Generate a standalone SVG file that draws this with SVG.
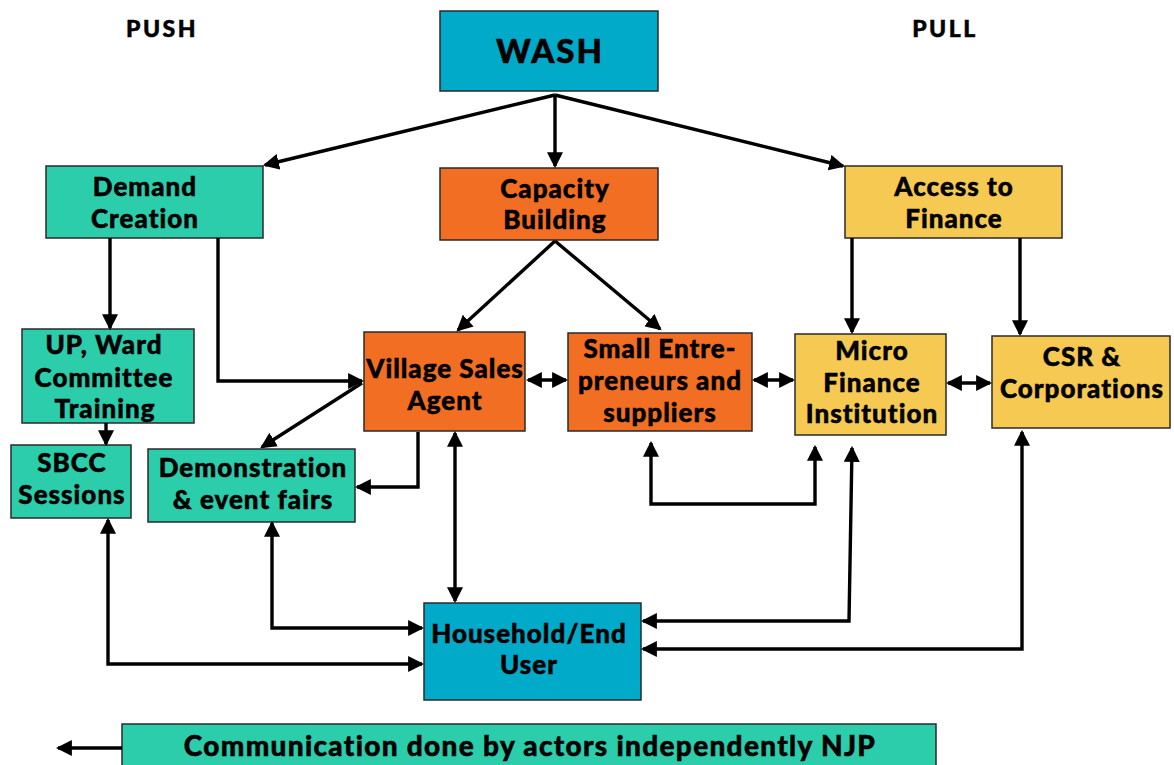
<svg xmlns="http://www.w3.org/2000/svg" width="1174" height="765" viewBox="0 0 1174 765">
<style>
.box{stroke:#2a2a2a;stroke-width:1.5}
.teal{fill:#2bcdab}
.blue{fill:#00aac8}
.orange{fill:#f26e22}
.yellow{fill:#f6c952}
text{font-family:Lato,"Open Sans","Liberation Sans",sans-serif;font-weight:900;fill:#000;stroke:#000;stroke-width:0.5;text-anchor:middle;dominant-baseline:central}
.t{font-size:26px;letter-spacing:1px}
.c{fill:none;stroke:#000;stroke-width:3.4}
</style>
<defs>
<marker id="ah" markerUnits="userSpaceOnUse" markerWidth="16" markerHeight="16" refX="13" refY="7.5" orient="auto-start-reverse" viewBox="0 0 15 15">
<path d="M0,0 L15,7.5 L0,15 z" fill="#000"/>
</marker>
</defs>
<text x="162" y="28" style="font-size:23px;letter-spacing:2.5px">PUSH</text>
<text x="945" y="28" style="font-size:23px;letter-spacing:2.5px">PULL</text>

<g id="wash"><rect class="box blue" x="440" y="11" width="218" height="80"/><text x="550" y="50" style="font-size:33px;letter-spacing:2px">WASH</text></g>
<g id="demand"><rect class="box teal" x="46" y="166" width="217" height="72"/><text class="t" x="145" y="186">Demand</text><text class="t" x="145" y="218">Creation</text></g>
<g id="capacity"><rect class="box orange" x="440" y="168" width="218" height="72"/><text class="t" x="555" y="188">Capacity</text><text class="t" x="555" y="219">Building</text></g>
<g id="access"><rect class="box yellow" x="845" y="166" width="217" height="72"/><text class="t" x="954" y="186">Access to</text><text class="t" x="954" y="218">Finance</text></g>
<g id="up"><rect class="box teal" x="22" y="329" width="172" height="94"/><text class="t" x="104" y="344">UP, Ward</text><text class="t" x="104" y="377">Committee</text><text class="t" x="105" y="408">Training</text></g>
<g id="sbcc"><rect class="box teal" x="11" y="445" width="120" height="73"/><text class="t" x="72" y="462">SBCC</text><text class="t" x="72" y="494">Sessions</text></g>
<g id="demo"><rect class="box teal" x="148" y="449" width="207" height="73"/><text class="t" x="253" y="467">Demonstration</text><text class="t" x="253" y="499">&amp; event fairs</text></g>
<g id="vsa"><rect class="box orange" x="364" y="332" width="161" height="99"/><text class="t" x="445" y="368">Village Sales</text><text class="t" x="445" y="400">Agent</text></g>
<g id="small"><rect class="box orange" x="568" y="333" width="184" height="98"/><text class="t" x="660" y="348">Small Entre-</text><text class="t" x="660" y="380">preneurs and</text><text class="t" x="660" y="412">suppliers</text></g>
<g id="mfi"><rect class="box yellow" x="795" y="334" width="151" height="101"/><text class="t" x="872" y="350">Micro</text><text class="t" x="872" y="382">Finance</text><text class="t" x="872" y="413">Institution</text></g>
<g id="csr"><rect class="box yellow" x="992" y="336" width="178" height="92"/><text class="t" x="1082" y="356">CSR &amp;</text><text class="t" x="1082" y="388">Corporations</text></g>
<g id="household"><rect class="box blue" x="424" y="603" width="217" height="97"/><text class="t" x="529" y="633">Household/End</text><text class="t" x="529" y="664">User</text></g>
<g id="legend"><rect class="box teal" x="122" y="724" width="814" height="50"/><text x="530" y="745" style="font-size:28px;letter-spacing:1.3px">Communication done by actors independently NJP</text></g>

<g id="connectors">
<path class="c" d="M555,95 L265,165" marker-end="url(#ah)"/>
<path class="c" d="M555,95 L555,166" marker-end="url(#ah)"/>
<path class="c" d="M555,95 L843,166" marker-end="url(#ah)"/>
<path class="c" d="M110,238 L110,328" marker-end="url(#ah)"/>
<path class="c" d="M218,238 L218,381 L362,381" marker-end="url(#ah)"/>
<path class="c" d="M362,383 L262,447" marker-end="url(#ah)"/>
<path class="c" d="M106,423 L106,444" marker-end="url(#ah)"/>
<path class="c" d="M555,241 L458,330" marker-end="url(#ah)"/>
<path class="c" d="M555,241 L660,329" marker-end="url(#ah)"/>
<path class="c" d="M528,380 L566,380" marker-start="url(#ah)" marker-end="url(#ah)"/>
<path class="c" d="M754,380 L793,380" marker-start="url(#ah)" marker-end="url(#ah)"/>
<path class="c" d="M948,383 L990,383" marker-start="url(#ah)" marker-end="url(#ah)"/>
<path class="c" d="M852,238 L852,332" marker-end="url(#ah)"/>
<path class="c" d="M1020,238 L1020,334" marker-end="url(#ah)"/>
<path class="c" d="M418,432 L418,487 L357,487" marker-end="url(#ah)"/>
<path class="c" d="M455,433 L455,601" marker-start="url(#ah)" marker-end="url(#ah)"/>
<path class="c" d="M272,523 L272,628 L422,628" marker-start="url(#ah)" marker-end="url(#ah)"/>
<path class="c" d="M108,520 L108,664 L422,664" marker-start="url(#ah)" marker-end="url(#ah)"/>
<path class="c" d="M651,443 L651,504 L815,504 L815,447" marker-start="url(#ah)" marker-end="url(#ah)"/>
<path class="c" d="M852,448 L849,621 L643,621" marker-start="url(#ah)" marker-end="url(#ah)"/>
<path class="c" d="M1022,432 L1022,649 L643,649" marker-start="url(#ah)" marker-end="url(#ah)"/>
<path class="c" d="M122,748 L58,748" marker-end="url(#ah)"/>
</g>
</svg>
